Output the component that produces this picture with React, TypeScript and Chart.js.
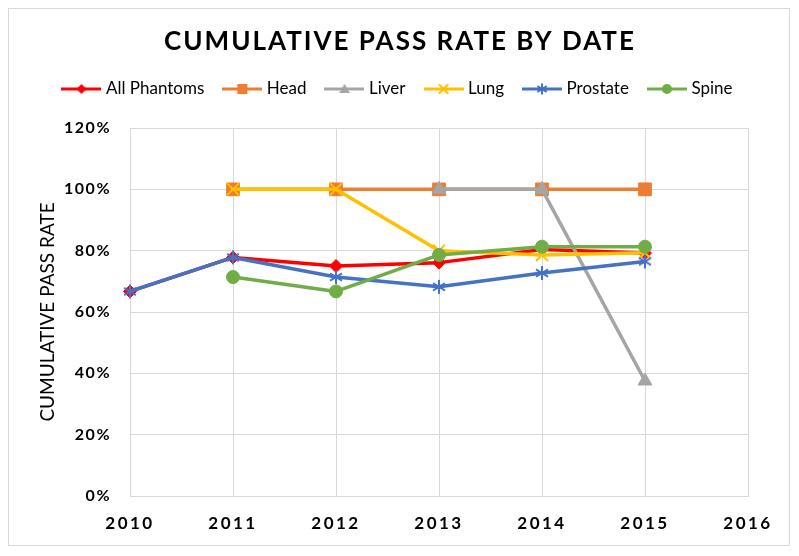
import React, { useEffect, useRef } from 'react';
import { Chart, registerables, LinearScale } from 'chart.js';

Chart.register(...registerables);

// ---------- data ----------
const TITLE = 'CUMULATIVE PASS RATE BY DATE';
const Y_TITLE = 'CUMULATIVE PASS RATE';
const YEARS = [2010, 2011, 2012, 2013, 2014, 2015];
const X_MIN = 2010;
const X_MAX = 2016;
const Y_MIN = 0;
const Y_MAX = 120;
const Y_STEP = 20;
const SERIES_NAMES = ['All Phantoms', 'Head', 'Liver', 'Lung', 'Prostate', 'Spine'];
const ALL_PHANTOMS = [66.7, 77.8, 75.0, 76.1, 80.4, 79.2];
const HEAD = [null, 100, 100, 100, 100, 100];
const LIVER = [null, null, null, 100, 100, 37.5];
const LUNG = [null, 100, 100, 80.0, 78.6, 79.3];
const PROSTATE = [66.7, 77.8, 71.4, 68.2, 72.7, 76.5];
const SPINE = [null, 71.4, 66.7, 78.6, 81.3, 81.3];
const SERIES_VALUES = [ALL_PHANTOMS, HEAD, LIVER, LUNG, PROSTATE, SPINE];

// ---------- styles ----------
const COLORS = ['#FF0000', '#ED7D31', '#A5A5A5', '#FFC000', '#4472C4', '#70AD47'];
const MARKERS = ['diamond', 'square', 'triangle', 'x', 'asterisk', 'circle'];
const FONT = 'Lato';
const X_SPACING = '2.5px';
const Y_SPACING = '1.5px';
const TITLE_SPACING = '2px';

class SpacedLinearScale extends LinearScale {
  static id = 'spacedLinear';
  drawLabels(chartArea: any) {
    const ctx: any = (this as any).ctx;
    ctx.save();
    ctx.letterSpacing = (this as any).axis === 'x' ? X_SPACING : Y_SPACING;
    super.drawLabels(chartArea);
    ctx.restore();
  }
}
Chart.register(SpacedLinearScale as any);

function drawMarker(ctx: CanvasRenderingContext2D, kind: string, cx: number, cy: number, color: string, s: number) {
  ctx.save();
  ctx.fillStyle = color;
  ctx.strokeStyle = color;
  ctx.lineWidth = 2;
  ctx.beginPath();
  if (kind === 'diamond') {
    const r = 6.5 * s;
    ctx.moveTo(cx, cy - r);
    ctx.lineTo(cx + r, cy);
    ctx.lineTo(cx, cy + r);
    ctx.lineTo(cx - r, cy);
    ctx.closePath();
    ctx.fill();
  } else if (kind === 'square') {
    const h = 6.5 * s;
    ctx.rect(cx - h, cy - h, 2 * h, 2 * h);
    ctx.fill();
  } else if (kind === 'triangle') {
    const r = 8 * s;
    for (let k = 0; k < 3; k++) {
      const a = -Math.PI / 2 + (k * 2 * Math.PI) / 3;
      const px = cx + Math.cos(a) * r;
      const py = cy + Math.sin(a) * r + 1;
      if (k === 0) ctx.moveTo(px, py);
      else ctx.lineTo(px, py);
    }
    ctx.closePath();
    ctx.fill();
  } else if (kind === 'x') {
    const h = 6 * s;
    ctx.moveTo(cx - h, cy - h);
    ctx.lineTo(cx + h, cy + h);
    ctx.moveTo(cx + h, cy - h);
    ctx.lineTo(cx - h, cy + h);
    ctx.stroke();
  } else if (kind === 'asterisk') {
    const h = 6 * s;
    ctx.moveTo(cx - h, cy - h * 0.6);
    ctx.lineTo(cx + h, cy + h * 0.6);
    ctx.moveTo(cx + h, cy - h * 0.6);
    ctx.lineTo(cx - h, cy + h * 0.6);
    ctx.moveTo(cx, cy - 7 * s);
    ctx.lineTo(cx, cy + 7 * s);
    ctx.stroke();
  } else {
    ctx.arc(cx, cy, 6.5 * s, 0, Math.PI * 2);
    ctx.fill();
  }
  ctx.restore();
}

function makeMarkerImage(kind: string, color: string): HTMLCanvasElement {
  const c = document.createElement('canvas');
  c.width = 18;
  c.height = 18;
  const ctx = c.getContext('2d')!;
  drawMarker(ctx, kind, 9, 9, color, 1);
  return c;
}

function makeLegendImage(kind: string, color: string): HTMLCanvasElement {
  const c = document.createElement('canvas');
  c.width = 40;
  c.height = 18;
  const ctx = c.getContext('2d')!;
  ctx.strokeStyle = color;
  ctx.lineWidth = 3;
  ctx.beginPath();
  ctx.moveTo(0, 9);
  ctx.lineTo(40, 9);
  ctx.stroke();
  drawMarker(ctx, kind, 20, 9, color, 0.78);
  return c;
}

const titlePlugin = {
  id: 'spacedTitle',
  afterDraw(chart: any) {
    const ctx = chart.ctx;
    ctx.save();
    ctx.font = `bold 26px ${FONT}`;
    ctx.fillStyle = '#000000';
    ctx.textAlign = 'center';
    ctx.textBaseline = 'middle';
    ctx.letterSpacing = TITLE_SPACING;
    ctx.fillText(TITLE, chart.width / 2 + 1, 33);
    ctx.restore();
  },
};

export default function App() {
  const ref = useRef<HTMLCanvasElement>(null);

  useEffect(() => {
    const legendImages = SERIES_NAMES.map((_, i) => makeLegendImage(MARKERS[i], COLORS[i]));
    const pointStyles: any[] = MARKERS.map((m, i) => {
      if (m === 'diamond') return 'rectRot';
      if (m === 'square') return 'rect';
      if (m === 'triangle') return 'triangle';
      if (m === 'x') return 'crossRot';
      if (m === 'circle') return 'circle';
      return makeMarkerImage(m, COLORS[i]);
    });
    const radii = [6.5, 9, 8, 8.5, 7, 6.5];

    const datasets = SERIES_NAMES.map((name, i) => ({
      label: name,
      data: YEARS.map((x, j) => ({ x, y: SERIES_VALUES[i][j] })),
      borderColor: COLORS[i],
      backgroundColor: COLORS[i],
      pointBackgroundColor: COLORS[i],
      pointBorderColor: COLORS[i],
      pointStyle: pointStyles[i],
      pointRadius: radii[i],
      pointBorderWidth: MARKERS[i] === 'x' ? 2 : 1,
      borderWidth: 3.5,
      borderJoinStyle: 'round',
      borderCapStyle: 'round',
      tension: 0,
      fill: false,
      clip: false,
      order: SERIES_NAMES.length - 1 - i,
    }));

    const chart = new Chart(ref.current!, {
      type: 'line',
      data: { datasets } as any,
      plugins: [titlePlugin],
      options: {
        responsive: false,
        animation: false,
        layout: { padding: { top: 49.5, left: 0, right: 0, bottom: 0 } },
        plugins: {
          title: { display: false },
          subtitle: {
            display: true,
            text: '',
            position: 'top',
            weight: 500,
            font: { size: 10, lineHeight: 1 },
            padding: { top: 0, bottom: 10.5 },
          } as any,
          tooltip: { enabled: false },
          legend: {
            display: true,
            position: 'top',
            labels: {
              usePointStyle: true,
              pointStyleWidth: 32,
              padding: 22,
              color: '#000000',
              font: { family: FONT, size: 17 },
              generateLabels: () =>
                SERIES_NAMES.map((name, i) => ({
                  text: name,
                  pointStyle: legendImages[i],
                  fillStyle: COLORS[i],
                  strokeStyle: COLORS[i],
                  fontColor: '#000000',
                  lineWidth: 0,
                  hidden: false,
                  datasetIndex: i,
                })) as any,
            },
          },
        },
        scales: {
          x: {
            type: 'spacedLinear' as any,
            min: X_MIN,
            max: X_MAX,
            ticks: {
              stepSize: 1,
              padding: 17,
              color: '#000000',
              font: { family: FONT, size: 17, weight: 'bold' },
              callback: (v: any) => String(v),
            },
            grid: { color: '#D9D9D9', drawTicks: false, lineWidth: 1 },
            border: { display: true, color: '#D9D9D9' },
            afterFit: (scale: any) => {
              scale.height = 49;
              scale.paddingRight = 41;
            },
          },
          y: {
            type: 'spacedLinear' as any,
            min: Y_MIN,
            max: Y_MAX,
            ticks: {
              stepSize: Y_STEP,
              padding: 19,
              color: '#000000',
              font: { family: FONT, size: 16, weight: 'bold' },
              callback: (v: any) => `${v}%`,
            },
            grid: { color: '#D9D9D9', drawTicks: false, lineWidth: 1 },
            border: { display: false },
            title: {
              display: true,
              text: Y_TITLE,
              color: '#000000',
              font: { family: FONT, size: 19 },
              padding: { top: 27, bottom: 0 },
            },
            afterFit: (scale: any) => {
              scale.width = 121;
            },
          },
        },
      } as any,
    });
    return () => chart.destroy();
  }, []);

  return (
    <div
      style={{
        width: 782,
        height: 538,
        border: '1px solid #D9D9D9',
        boxSizing: 'border-box',
        background: '#ffffff',
      }}
    >
      <canvas ref={ref} width={780} height={536} style={{ display: 'block' }} />
    </div>
  );
}
